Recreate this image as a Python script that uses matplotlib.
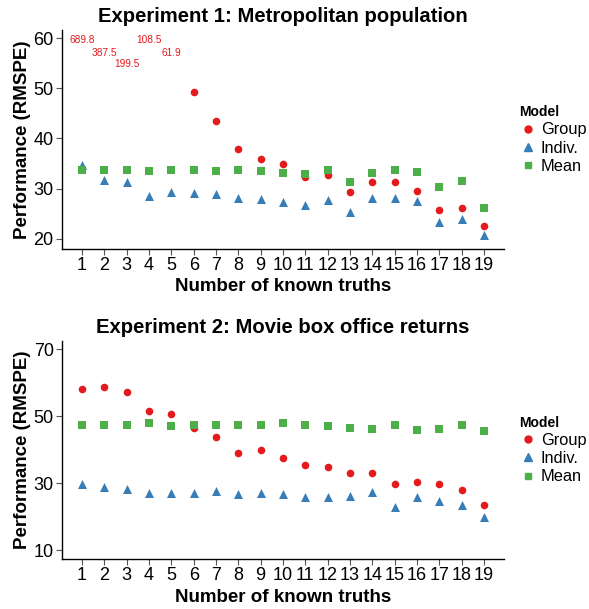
import numpy as np
import matplotlib.pyplot as plt
from matplotlib.lines import Line2D

plt.rcParams['font.family'] = ['Liberation Sans', 'DejaVu Sans']

truths = list(range(1, 20))

# Experiment 1 (metropolitan population); first five group values are off-scale
exp1_group = [689.8, 387.5, 199.5, 108.5, 61.9, 49.2, 43.4, 38.0, 35.85, 34.85,
              32.4, 32.8, 29.25, 31.4, 31.4, 29.45, 25.7, 26.1, 22.5]
exp1_indiv = [34.8, 31.7, 31.4, 28.5, 29.3, 29.1, 28.85, 28.1, 27.9, 27.4,
              26.7, 27.65, 25.3, 28.1, 28.1, 27.5, 23.3, 23.9, 20.75]
exp1_mean = [33.65, 33.65, 33.65, 33.45, 33.65, 33.65, 33.45, 33.7, 33.45, 33.1,
             32.9, 33.65, 31.3, 33.1, 33.65, 33.25, 30.25, 31.45, 26.1]
# label heights for the off-scale values
exp1_label_y = [59.7, 57.1, 54.8, 59.7, 57.1]

# Experiment 2 (movie box office returns)
exp2_group = [58.0, 58.6, 57.1, 51.7, 50.8, 46.6, 43.9, 38.9, 39.8, 37.4,
              35.3, 34.7, 32.9, 32.9, 29.6, 30.2, 29.6, 27.8, 23.6]
exp2_indiv = [29.6, 28.7, 28.1, 27.1, 27.1, 27.1, 27.7, 26.6, 26.9, 26.6,
              25.7, 25.9, 26.1, 27.2, 23.0, 25.7, 24.5, 23.5, 19.85]
exp2_mean = [47.5, 47.5, 47.5, 47.9, 47.2, 47.5, 47.5, 47.5, 47.5, 48.1,
             47.5, 47.2, 46.6, 46.3, 47.5, 46.0, 46.3, 47.5, 45.7]

RED, BLUE, GREEN = '#E41A1C', '#377EB8', '#4DAF4A'
W, H = 589, 609


def panel(top, bottom):
    # pixel box -> figure fraction
    return [62 / W, (H - bottom) / H, (504 - 62) / W, (bottom - top) / H]


def style(ax, title, ylim, yticks):
    ax.set_xlim(0.1, 19.9)
    ax.set_ylim(*ylim)
    ax.set_xticks(truths)
    ax.set_yticks(yticks)
    for s in ['top', 'right']:
        ax.spines[s].set_visible(False)
    for s in ['left', 'bottom']:
        ax.spines[s].set_linewidth(1.0)
    ax.tick_params(direction='out', length=4, width=0.8, color='#555555',
                   labelsize=13, pad=2)
    ax.set_title(title, fontsize=14.6, fontweight='bold', pad=6)
    ax.set_xlabel('Number of known truths', fontsize=13.5, fontweight='bold',
                  labelpad=3)
    ax.set_ylabel('Performance (RMSPE)', fontsize=13.5, fontweight='bold',
                  labelpad=2)
    handles = [
        Line2D([], [], ls='none', marker='o', color=RED, markersize=5),
        Line2D([], [], ls='none', marker='^', color=BLUE, markersize=6),
        Line2D([], [], ls='none', marker='s', color=GREEN, markersize=5),
    ]
    leg = ax.legend(handles, ['Group', 'Indiv.', 'Mean'], title='Model',
                    loc='center left', bbox_to_anchor=(1.02, 0.5),
                    frameon=False, fontsize=11.8, title_fontsize=10,
                    handlelength=1.0, handletextpad=0.3, labelspacing=0.2,
                    alignment='left', borderaxespad=0)
    leg.get_title().set_fontweight('bold')


fig = plt.figure(figsize=(W / 100, H / 100), dpi=100)

ax1 = fig.add_axes(panel(30, 249))
g1 = np.array(exp1_group)
on = g1 < 60
x = np.array(truths)
ax1.scatter(x[on], g1[on], marker='o', s=30, color=RED, zorder=3, linewidths=0)
ax1.scatter(x, exp1_indiv, marker='^', s=42, color=BLUE, zorder=3, linewidths=0)
ax1.scatter(x, exp1_mean, marker='s', s=26, color=GREEN, zorder=3, linewidths=0)
for xi, v, ly in zip(x[~on], g1[~on], exp1_label_y):
    ax1.text(xi, ly, f'{v:.1f}', color=RED, fontsize=7.3, ha='center', va='center')
style(ax1, 'Experiment 1: Metropolitan population', (17.94, 61.66),
      [20, 30, 40, 50, 60])

ax2 = fig.add_axes(panel(341, 559))
ax2.scatter(x, exp2_group, marker='o', s=30, color=RED, zorder=3, linewidths=0)
ax2.scatter(x, exp2_indiv, marker='^', s=42, color=BLUE, zorder=3, linewidths=0)
ax2.scatter(x, exp2_mean, marker='s', s=26, color=GREEN, zorder=3, linewidths=0)
style(ax2, 'Experiment 2: Movie box office returns', (7.31, 72.48),
      [10, 30, 50, 70])

fig.savefig('out.png', dpi=100)
